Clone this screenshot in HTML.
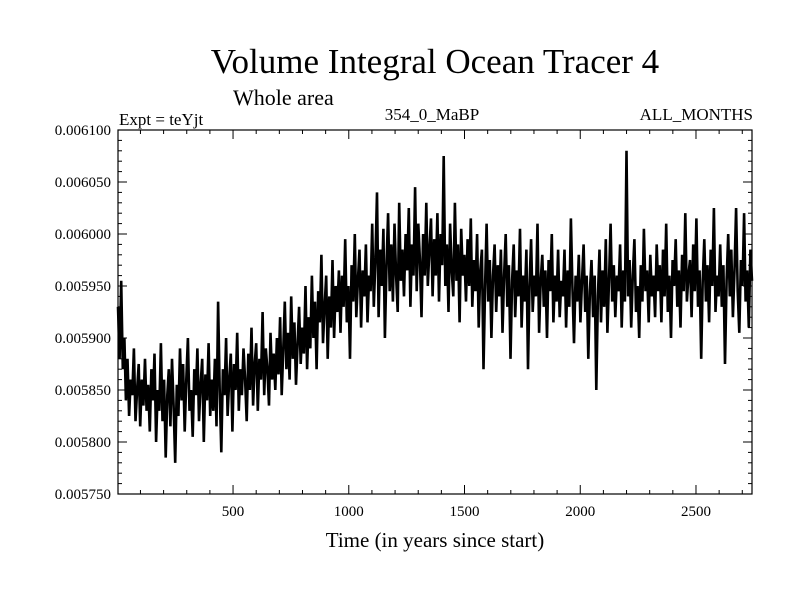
<!DOCTYPE html>
<html><head><meta charset="utf-8"><style>
html,body{margin:0;padding:0;background:#fff;}
svg text{font-family:"Liberation Serif",serif;fill:#000;}
</style></head><body>
<svg id="chart" width="800" height="600" xmlns="http://www.w3.org/2000/svg">
<rect width="800" height="600" fill="#fff"/>
<text x="435" y="73" font-size="35" text-anchor="middle">Volume Integral Ocean Tracer 4</text>
<text x="233" y="105" font-size="22">Whole area</text>
<text x="119" y="125" font-size="17">Expt = teYjt</text>
<text x="432" y="120" font-size="17" text-anchor="middle">354_0_MaBP</text>
<text x="753" y="120" font-size="17" text-anchor="end">ALL_MONTHS</text>
<text x="435" y="547" font-size="21" text-anchor="middle">Time (in years since start)</text>
<g id="axes"></g>
<g id="series"></g>
<rect x="118" y="130" width="634" height="364" fill="none" stroke="#000" stroke-width="1.2"/>
</svg>
<script>
const yTicks=[0.00575,0.0058,0.00585,0.0059,0.00595,0.006,0.00605,0.0061];
const yTickLabels=["0.005750","0.005800","0.005850","0.005900","0.005950","0.006000","0.006050","0.006100"];
const xTicks=[500,1000,1500,2000,2500];
const xTickLabels=["500","1000","1500","2000","2500"];
const startYear=3, endYear=2742;
const tracerValues=[
5930,5880,5955,5870,5900,5840,5880,5825,5860,5845,5890,5820,5850,5875,5815,5860,5835,5880,5830,5855,
5810,5870,5840,5885,5800,5850,5830,5895,5820,5860,5785,5845,5870,5815,5880,5835,5780,5855,5825,5890,
5840,5875,5810,5860,5900,5830,5850,5805,5870,5845,5890,5820,5855,5880,5800,5865,5840,5895,5825,5860,
5830,5880,5815,5935,5850,5790,5870,5845,5900,5825,5860,5885,5810,5875,5850,5905,5830,5870,5845,5890,
5860,5820,5885,5850,5910,5835,5875,5895,5830,5880,5860,5925,5845,5890,5870,5835,5905,5860,5885,5850,
5900,5865,5920,5845,5890,5935,5870,5905,5860,5940,5880,5915,5855,5895,5930,5875,5910,5885,5950,5870,
5920,5890,5960,5900,5935,5870,5945,5915,5980,5895,5930,5960,5880,5940,5910,5975,5900,5950,5925,5965,
5905,5960,5930,5995,5915,5950,5880,5970,5935,6000,5920,5955,5985,5910,5965,5940,5990,5915,5960,5945,
6010,5930,5975,6040,5920,5985,5950,6005,5900,5970,6020,5945,5990,5935,6010,5960,5925,6030,5955,5985,
5940,6000,5965,6025,5930,5990,5960,6045,5945,6010,5975,5920,6000,5960,6030,5950,5985,6015,5940,5995,
5960,6020,5935,6000,5970,6075,5950,5990,5925,6010,5965,5940,6030,5955,5990,5915,6005,5960,5980,5935,
5995,5950,6015,5930,5975,5945,6000,5910,5965,5985,5870,5950,6010,5935,5975,5900,5960,5990,5925,5970,
5940,5985,5905,5960,6000,5930,5970,5880,5955,5990,5920,5965,5940,6005,5910,5960,5935,5985,5870,5950,
5995,5925,5960,5940,6010,5905,5955,5980,5930,5965,5900,5975,5945,6000,5915,5960,5935,5985,5920,5955,
5940,5985,5910,5965,5930,6015,5950,5895,5960,5935,5980,5915,5955,5990,5925,5960,5880,5945,5975,5920,
5960,5850,5940,5985,5915,5965,5930,5995,5905,5955,6010,5935,5970,5920,5960,5945,5990,5910,5965,5935,
6080,5940,5975,5910,5960,5995,5925,5950,5900,5970,5935,6005,5945,5965,5915,5980,5940,5960,5920,5990,
5945,5970,5915,5985,5940,6010,5925,5960,5900,5975,5950,5995,5930,5965,5910,5980,5945,6020,5935,5960,
5975,5920,5990,5945,6015,5930,5965,5880,5955,5995,5935,5970,5915,5985,5950,6025,5925,5960,5940,5990,
5930,5970,5875,5955,6000,5940,5985,5920,5965,6025,5945,5905,5975,5950,6020,5935,5965,5910,5985,5955];
const L=118,R=752,T=130,B=494;
const xS=v=>L+(v-startYear)/(endYear-startYear)*(R-L);
const yS=v=>B-(v-0.00575)/(0.0061-0.00575)*(B-T);
const NS="http://www.w3.org/2000/svg";
const axes=document.getElementById('axes');
function mk(t,a,p){const e=document.createElementNS(NS,t);for(const k in a)e.setAttribute(k,a[k]);p.appendChild(e);return e;}
yTicks.forEach((v,i)=>{const y=yS(v);
 mk('line',{x1:L,x2:L+9,y1:y,y2:y,stroke:'#000'},axes);
 mk('line',{x1:R-9,x2:R,y1:y,y2:y,stroke:'#000'},axes);
 const t=mk('text',{x:111,y:y+5,'font-size':15,'text-anchor':'end'},axes);
 
 
 t.textContent=yTickLabels[i];
 if(i<yTicks.length-1)for(let k=1;k<5;k++){const ym=yS(v+k*0.00001);
  mk('line',{x1:L,x2:L+4,y1:ym,y2:ym,stroke:'#000'},axes);
  mk('line',{x1:R-4,x2:R,y1:ym,y2:ym,stroke:'#000'},axes);}
});
xTicks.forEach((v,i)=>{const x=xS(v);
 mk('line',{x1:x,x2:x,y1:B,y2:B-9,stroke:'#000'},axes);
 mk('line',{x1:x,x2:x,y1:T,y2:T+9,stroke:'#000'},axes);
 const t=mk('text',{x:x,y:B+22,'font-size':15,'text-anchor':'middle'},axes);
 
 
 t.textContent=xTickLabels[i];
});
for(let v=100;v<endYear;v+=100){if(v%500===0)continue;const x=xS(v);
 mk('line',{x1:x,x2:x,y1:B,y2:B-4,stroke:'#000'},axes);
 mk('line',{x1:x,x2:x,y1:T,y2:T+4,stroke:'#000'},axes);}
const n=tracerValues.length;
const pts=tracerValues.map((v,i)=>xS(startYear+i*(endYear-startYear)/(n-1)).toFixed(1)+','+yS(v*1e-6).toFixed(1)).join(' ');
const pl=mk('polyline',{points:pts,fill:'none',stroke:'#000','stroke-width':2.6,'stroke-linejoin':'miter','stroke-miterlimit':2},document.getElementById('series'));


</script>
</body></html>
